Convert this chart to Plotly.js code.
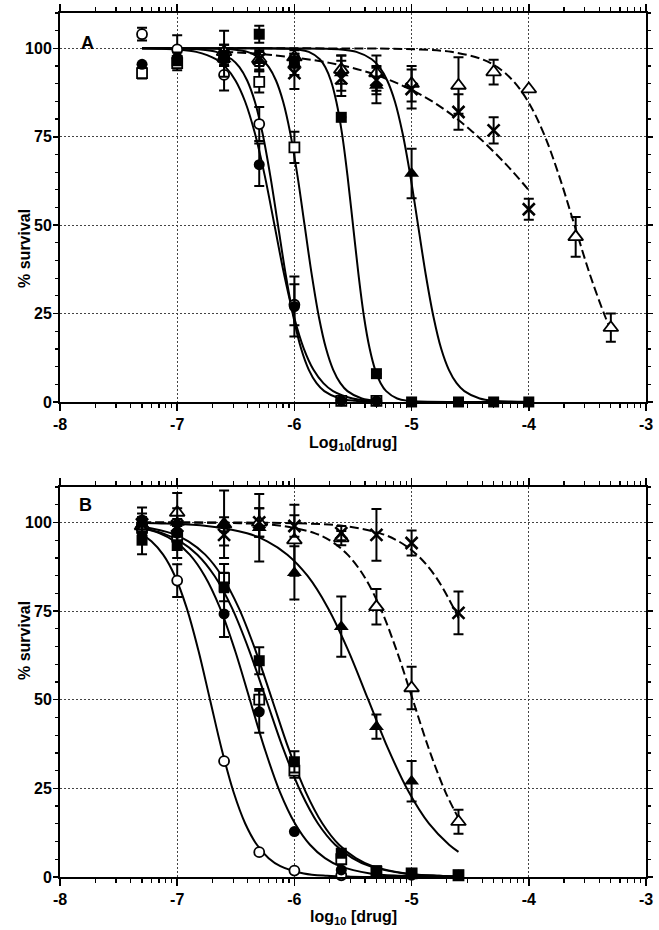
<!DOCTYPE html>
<html>
<head>
<meta charset="utf-8">
<script src="https://cdn.plot.ly/plotly-3.0.1.min.js"></script>
<style>html,body{margin:0;padding:0;background:#fff;}#chart{width:659px;height:930px;}</style>
</head>
<body>
<div id="chart"></div>
<script>
// ---------------- Panel A : measured points ----------------
const A_x_oc = [-7.3, -7, -6.6, -6.3, -6, -5.6, -5.3];
const A_y_oc = [104, 99.7, 92.5, 78.6, 27.5, 0.4, 0.3];
const A_e_oc = [1.8, 4, 4.4, 4.8, 5.8, null, null];

const A_x_fc = [-7.3, -7, -6.6, -6.3, -6, -5.6, -5.3];
const A_y_fc = [95.5, 97.3, 97, 67.1, 27, 0.4, 0.3];
const A_e_fc = [null, 1.5, 2, 6, 8.5, null, null];

const A_x_os = [-7.3, -7, -6.6, -6.3, -6, -5.6, -5.3];
const A_y_os = [93, 95.8, 97.5, 90.5, 72, 0.3, 0.3];
const A_e_os = [1.5, 2, 2, 3, 4.4, null, null];

const A_x_fs = [-7, -6.6, -6.3, -6, -5.6, -5.3, -5, -4.6, -4.3, -4];
const A_y_fs = [96.5, 98, 104, 96.5, 80.5, 8, 0, 0, 0, 0];
const A_e_fs = [null, 3, 2.4, 2, null, null, null, null, null, null];

const A_x_ft = [-6.6, -6.3, -6, -5.6, -5.3, -5];
const A_y_ft = [97, 96.5, 95.5, 93, 89.5, 64.6];
const A_e_ft = [2, 3, 3, 5, 5, 7];

const A_x_ot = [-6.6, -6.3, -6, -5.6, -5.3, -5, -4.6, -4.3, -4, -3.6, -3.3];
const A_y_ot = [99, 97, 97.5, 94, 93, 90, 89.5, 93.3, 88.5, 46.7, 21];
const A_e_ot = [2, 2, 2, 4, 5, 5, 8, 3.5, null, 5.6, 4];

const A_x_xx = [-6.6, -6.3, -6, -5.6, -5.3, -5, -4.6, -4.3, -4];
const A_y_xx = [98.5, 97, 93, 91.5, 91, 88.5, 82, 76.8, 54.5];
const A_e_xx = [6.5, 3, 4.5, 5, 4, 5.5, 5, 3.7, 3];

// ---------------- Panel A : fitted curves ----------------
const A_cx_oc = [-7.3, -6.929, -6.798, -6.666, -6.535, -6.469, -6.403, -6.337, -6.272, -6.206, -6.14, -6.074, -6.008, -5.943, -5.877, -5.811, -5.745, -5.614, -5.482, -5.351, -5.3];
const A_cy_oc = [100, 99.9, 99.68, 99.01, 96.93, 94.68, 90.91, 84.9, 75.97, 64.01, 50, 35.99, 24.03, 15.1, 9.09, 5.32, 3.07, 0.99, 0.32, 0.1, 0.07];
const A_cx_fc = [-7.3, -7.17, -7.003, -6.837, -6.67, -6.587, -6.503, -6.42, -6.337, -6.253, -6.17, -6.087, -6.003, -5.92, -5.837, -5.753, -5.67, -5.503, -5.337, -5.3];
const A_cy_fc = [100, 99.9, 99.68, 99.01, 96.93, 94.68, 90.91, 84.9, 75.97, 64.01, 50, 35.99, 24.03, 15.1, 9.09, 5.32, 3.07, 0.99, 0.32, 0.25];
const A_cx_os = [-7.3, -6.645, -6.523, -6.401, -6.279, -6.218, -6.157, -6.096, -6.035, -5.974, -5.913, -5.852, -5.791, -5.73, -5.669, -5.608, -5.547, -5.425, -5.3];
const A_cy_os = [100, 99.9, 99.68, 99.01, 96.93, 94.68, 90.91, 84.9, 75.97, 64.01, 50, 35.99, 24.03, 15.1, 9.09, 5.32, 3.07, 0.99, 0.3];
const A_cx_fs = [-7.3, -6.066, -5.972, -5.877, -5.783, -5.736, -5.689, -5.642, -5.594, -5.547, -5.5, -5.453, -5.406, -5.358, -5.311, -5.264, -5.217, -5.123, -5.028, -4.934, -4];
const A_cy_fs = [100, 99.9, 99.68, 99.01, 96.93, 94.68, 90.91, 84.9, 75.97, 64.01, 50, 35.99, 24.03, 15.1, 9.09, 5.32, 3.07, 0.99, 0.32, 0.1, 0];
const A_cx_ft = [-7.3, -5.734, -5.603, -5.471, -5.34, -5.274, -5.208, -5.142, -5.077, -5.011, -4.945, -4.879, -4.813, -4.748, -4.682, -4.616, -4.55, -4.419, -4.287, -4.156, -4];
const A_cy_ft = [100, 99.9, 99.68, 99.01, 96.93, 94.68, 90.91, 84.9, 75.97, 64.01, 50, 35.99, 24.03, 15.1, 9.09, 5.32, 3.07, 0.99, 0.32, 0.1, 0.03];
const A_cx_xx = [-6.6, -6.3, -6.0, -5.7, -5.4, -5.1, -4.8, -4.5, -4.2, -4.0];
const A_cy_xx = [99.0, 98.4, 97.4, 95.9, 93.5, 89.8, 84.5, 77.0, 67.4, 59.9];
const A_cx_ot = [-6.6, -5.189, -4.926, -4.663, -4.399, -4.268, -4.136, -4.005, -3.873, -3.742, -3.61, -3.478, -3.347, -3.3];
const A_cy_ot = [100, 99.9, 99.68, 99.01, 96.93, 94.68, 90.91, 84.9, 75.97, 64.01, 50, 35.99, 24.03, 20.5];

// ---------------- Panel B : measured points ----------------
const B_x_oc = [-7.3, -7, -6.6, -6.3, -6, -5.6];
const B_y_oc = [99, 83.6, 32.7, 7, 1.8, 0.5];
const B_e_oc = [null, 4.6, null, null, null, null];

const B_x_fc = [-7.3, -7, -6.6, -6.3, -6, -5.6, -5.3, -5, -4.6];
const B_y_fc = [100.7, 97, 74.2, 46.6, 12.8, 2, 1, 0.5, 0.5];
const B_e_fc = [3.5, 2, 6.5, 5.9, null, null, null, null, null];

const B_x_os = [-7.3, -7, -6.6, -6.3, -6, -5.6, -5.3, -5, -4.6];
const B_y_os = [98.5, 96, 84.3, 50, 30, 5, 1.5, 1, 0.5];
const B_e_os = [3, 3, 4, 3, 2, null, null, null, null];

const B_x_fs = [-7.3, -7, -6.6, -6.3, -6, -5.6, -5.3, -5, -4.6];
const B_y_fs = [95, 93.5, 81.8, 61, 32.5, 6.7, 1.8, 1, 0.5];
const B_e_fs = [4, 3.5, 4, 3.8, 3, null, null, null, null];

const B_x_ft = [-7.3, -7, -6.6, -6.3, -6, -5.6, -5.3, -5];
const B_y_ft = [99.5, 100, 99.5, 98.5, 85.8, 70.6, 42.4, 27];
const B_e_ft = [3, 4, 9.5, 9.5, 7.5, 8.5, 3.4, 5.7];

const B_x_ot = [-7.3, -7, -6.6, -6.3, -6, -5.6, -5.3, -5, -4.6];
const B_y_ot = [99, 102.8, 99.5, 100, 95, 95.6, 76.2, 53.3, 15.6];
const B_e_ot = [2, 5.5, 2, 4, 10, 2, 5, 6, 3.4];

const B_x_xx = [-7.3, -7, -6.6, -6.3, -6, -5.6, -5.3, -5, -4.6];
const B_y_xx = [99.5, 99, 96.5, 100, 99, 97, 96.5, 94.2, 74.5];
const B_e_xx = [2, 2, 3, 4, 3, 2, 7.3, 3.5, 6];

// ---------------- Panel B : fitted curves ----------------
const B_cx_oc = [-7.3, -7.22, -7.12, -7.02, -6.92, -6.82, -6.72, -6.62, -6.52, -6.42, -6.32, -6.22, -6.12, -5.92, -5.72, -5.52, -4.6];
const B_cy_oc = [96.57, 94.68, 90.91, 84.9, 75.97, 64.01, 50, 35.99, 24.03, 15.1, 9.09, 5.32, 3.07, 0.99, 0.32, 0.1, 0];
const B_cx_fc = [-7.3, -7.149, -7.021, -6.893, -6.765, -6.636, -6.508, -6.38, -6.252, -6.124, -5.995, -5.867, -5.739, -5.611, -5.354, -5.098, -4.842, -4.6];
const B_cy_fc = [98.42, 96.93, 94.68, 90.91, 84.9, 75.97, 64.01, 50, 35.99, 24.03, 15.1, 9.09, 5.32, 3.07, 0.99, 0.32, 0.1, 0.03];
const B_cx_os = [-7.3, -7.122, -6.975, -6.828, -6.681, -6.534, -6.387, -6.24, -6.093, -5.946, -5.799, -5.652, -5.505, -5.358, -5.064, -4.769, -4.6];
const B_cy_os = [98.45, 96.93, 94.68, 90.91, 84.9, 75.97, 64.01, 50, 35.99, 24.03, 15.1, 9.09, 5.32, 3.07, 0.99, 0.32, 0.16];
const B_cx_fs = [-7.3, -7.047, -6.904, -6.761, -6.619, -6.476, -6.333, -6.19, -6.047, -5.904, -5.761, -5.619, -5.476, -5.333, -5.047, -4.761, -4.6];
const B_cy_fs = [98.87, 96.93, 94.68, 90.91, 84.9, 75.97, 64.01, 50, 35.99, 24.03, 15.1, 9.09, 5.32, 3.07, 0.99, 0.32, 0.17];
const B_cx_ft = [-7.3, -7.094, -6.749, -6.404, -6.232, -6.06, -5.887, -5.715, -5.542, -5.37, -5.198, -5.025, -4.853, -4.68, -4.6];
const B_cy_ft = [99.84, 99.68, 99.01, 96.93, 94.68, 90.91, 84.9, 75.97, 64.01, 50, 35.99, 24.03, 15.1, 9.09, 7.1];
const B_cx_ot = [-7.3, -6.657, -6.379, -6.101, -5.823, -5.684, -5.546, -5.407, -5.268, -5.129, -4.99, -4.851, -4.712, -4.6];
const B_cy_ot = [100, 99.9, 99.68, 99.01, 96.93, 94.68, 90.91, 84.9, 75.97, 64.01, 50, 35.99, 24.03, 16.57];
const B_cx_xx = [-7.3, -6.205, -5.893, -5.58, -5.268, -5.111, -4.955, -4.799, -4.643, -4.6];
const B_cy_xx = [100, 99.9, 99.68, 99.01, 96.93, 94.68, 90.91, 84.9, 75.97, 72.99];

// ---------------- Axis tick labels ----------------
const xTickVals = [-8, -7, -6, -5, -4, -3];
const xTickText = ['-8', '-7', '-6', '-5', '-4', '-3'];
const yTickVals = [0, 25, 50, 75, 100];
const yTickText = ['0', '25', '50', '75', '100'];

// ---------------- Styling / building ----------------
const DASH = '9px,4px';
function curve(x, y, xa, ya, dashed) {
  return {x: x, y: y, xaxis: xa, yaxis: ya, type: 'scatter', mode: 'lines',
    line: {color: '#000', width: 2, shape: 'spline', smoothing: 1, dash: dashed ? DASH : 'solid'},
    hoverinfo: 'skip', showlegend: false, cliponaxis: true};
}
function pts(x, y, e, sym, xa, ya) {
  const st = {
    oc: {symbol: 'circle', size: 10, color: '#fff', lw: 1.8},
    os: {symbol: 'square', size: 10, color: '#fff', lw: 1.8},
    ot: {symbol: 'triangle-up', size: 13, color: '#fff', lw: 1.8},
    fc: {symbol: 'circle', size: 11, color: '#000', lw: 0},
    fs: {symbol: 'square', size: 11, color: '#000', lw: 0},
    ft: {symbol: 'triangle-up', size: 13, color: '#000', lw: 0},
    xx: {symbol: 'x-thin', size: 12, color: '#000', lw: 2.6}
  }[sym];
  return {x: x, y: y, xaxis: xa, yaxis: ya, type: 'scatter', mode: 'markers',
    marker: {symbol: st.symbol, size: st.size, color: st.color, line: {color: '#000', width: st.lw}},
    error_y: {type: 'data', array: e, visible: true, color: '#000', thickness: 2, width: 5},
    hoverinfo: 'skip', showlegend: false, cliponaxis: false};
}

const minorX = [];
for (let d = -8; d < -3; d++) for (let k = 2; k <= 9; k++) minorX.push(d + Math.log10(k));

const tickFont = {family: 'Arial, "Liberation Sans", sans-serif', size: 16, color: '#000', weight: 'bold'};
function xAxis(anchor) {
  return {anchor: anchor, range: [-8, -3], tickmode: 'array', tickvals: xTickVals, ticktext: xTickText,
    ticks: 'outside', ticklen: 7, tickwidth: 1.5, tickcolor: '#000',
    showline: true, linecolor: '#000', linewidth: 2, mirror: 'ticks',
    showgrid: true, gridcolor: '#444', gridwidth: 1, griddash: '2px,2px', zeroline: false,
    tickfont: tickFont, fixedrange: true,
    minor: {tickmode: 'array', tickvals: minorX, ticks: 'outside', ticklen: 4, tickwidth: 1.2, tickcolor: '#000', showgrid: false}};
}
function yAxis(anchor, domain) {
  return {anchor: anchor, domain: domain, range: [0, 110], tickmode: 'array', tickvals: yTickVals, ticktext: yTickText,
    ticks: 'outside', ticklen: 5, tickwidth: 1.5, tickcolor: '#000',
    showline: true, linecolor: '#000', linewidth: 2, mirror: 'ticks',
    showgrid: true, gridcolor: '#444', gridwidth: 1, griddash: '2px,2px', zeroline: false,
    tickfont: tickFont, fixedrange: true, ticklabelstandoff: -2,
    minor: {tickmode: 'linear', tick0: 0, dtick: 5, ticks: 'outside', ticklen: 3, tickwidth: 1.2, tickcolor: '#000', showgrid: false}};
}

const traces = [
  // Panel A curves
  curve(A_cx_oc, A_cy_oc, 'x', 'y', false),
  curve(A_cx_fc, A_cy_fc, 'x', 'y', false),
  curve(A_cx_os, A_cy_os, 'x', 'y', false),
  curve(A_cx_fs, A_cy_fs, 'x', 'y', false),
  curve(A_cx_ft, A_cy_ft, 'x', 'y', false),
  curve(A_cx_xx, A_cy_xx, 'x', 'y', true),
  curve(A_cx_ot, A_cy_ot, 'x', 'y', true),
  // Panel A points
  pts(A_x_oc, A_y_oc, A_e_oc, 'oc', 'x', 'y'),
  pts(A_x_os, A_y_os, A_e_os, 'os', 'x', 'y'),
  pts(A_x_ot, A_y_ot, A_e_ot, 'ot', 'x', 'y'),
  pts(A_x_fc, A_y_fc, A_e_fc, 'fc', 'x', 'y'),
  pts(A_x_fs, A_y_fs, A_e_fs, 'fs', 'x', 'y'),
  pts(A_x_ft, A_y_ft, A_e_ft, 'ft', 'x', 'y'),
  pts(A_x_xx, A_y_xx, A_e_xx, 'xx', 'x', 'y'),
  // Panel B curves
  curve(B_cx_oc, B_cy_oc, 'x2', 'y2', false),
  curve(B_cx_fc, B_cy_fc, 'x2', 'y2', false),
  curve(B_cx_os, B_cy_os, 'x2', 'y2', false),
  curve(B_cx_fs, B_cy_fs, 'x2', 'y2', false),
  curve(B_cx_ft, B_cy_ft, 'x2', 'y2', false),
  curve(B_cx_ot, B_cy_ot, 'x2', 'y2', true),
  curve(B_cx_xx, B_cy_xx, 'x2', 'y2', true),
  // Panel B points
  pts(B_x_oc, B_y_oc, B_e_oc, 'oc', 'x2', 'y2'),
  pts(B_x_os, B_y_os, B_e_os, 'os', 'x2', 'y2'),
  pts(B_x_ot, B_y_ot, B_e_ot, 'ot', 'x2', 'y2'),
  pts(B_x_fc, B_y_fc, B_e_fc, 'fc', 'x2', 'y2'),
  pts(B_x_fs, B_y_fs, B_e_fs, 'fs', 'x2', 'y2'),
  pts(B_x_ft, B_y_ft, B_e_ft, 'ft', 'x2', 'y2'),
  pts(B_x_xx, B_y_xx, B_e_xx, 'xx', 'x2', 'y2')
];

const annFont = {family: 'Arial, "Liberation Sans", sans-serif', size: 16, color: '#000', weight: 'bold'};
function ann(text, x, y, extra) {
  return Object.assign({text: text, x: x, y: y, xref: 'paper', yref: 'paper', showarrow: false, font: annFont}, extra || {});
}

const layout = {
  width: 659, height: 930,
  margin: {l: 60, r: 13, t: 13, b: 53, pad: 0},
  paper_bgcolor: '#fff', plot_bgcolor: '#fff',
  showlegend: false,
  xaxis: xAxis('y'),
  yaxis: yAxis('x', [0.5498, 1]),
  xaxis2: xAxis('y2'),
  yaxis2: yAxis('x2', [0, 0.4514]),
  annotations: [
    ann('<b>A</b>', 0.0324, 0.979, {font: Object.assign({}, annFont, {size: 18})}),
    ann('<b>B</b>', 0.029, 0.4306, {font: Object.assign({}, annFont, {size: 18})}),
    ann('<b>% survival</b>', -0.0785, 0.7755, {textangle: -90}),
    ann('<b>% survival</b>', -0.0785, 0.2257, {textangle: -90}),
    ann('<b>Log<sub>10</sub>[drug]</b>', 0.5, 0.515, {yanchor: 'top'}),
    ann('<b>log<sub>10</sub> [drug]</b>', 0.5, -0.0336, {yanchor: 'top'})
  ]
};

Plotly.newPlot('chart', traces, layout, {staticPlot: true, displayModeBar: false});
</script>
</body>
</html>
